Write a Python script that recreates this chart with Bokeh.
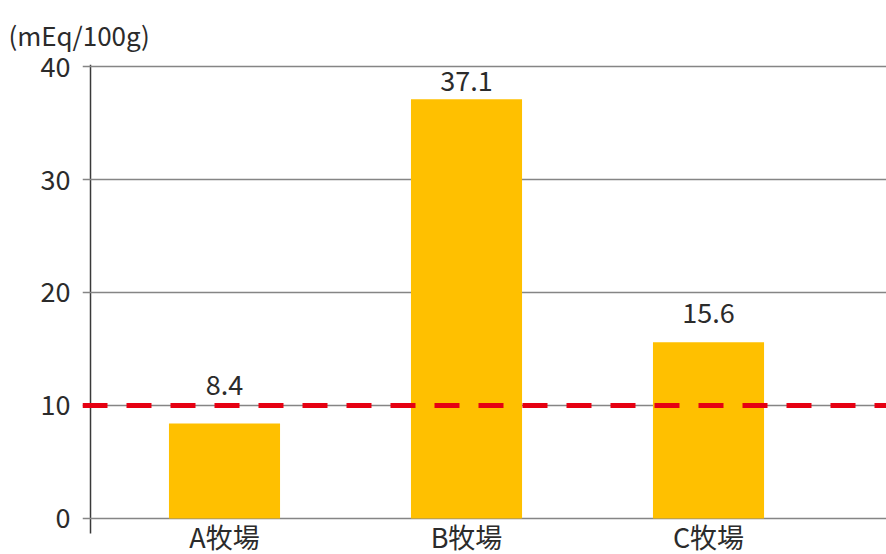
from bokeh.plotting import figure
from bokeh.models import Span, ColumnDataSource, FixedTicker, Range1d
from bokeh.core.properties import value
from bokeh.embed import file_html
from bokeh.resources import INLINE

# ---- data ----
categories = ["A牧場", "B牧場", "C牧場"]
values = [8.4, 37.1, 15.6]
y_ticks = [0, 10, 20, 30, 40]
reference_value = 10
unit_label = "(mEq/100g)"

# ---- styling ----
FONT = "Noto Sans CJK JP"
BAR_COLOR = "#FFC000"
REF_COLOR = "#E60012"
GRID_COLOR = "#858585"
TEXT_COLOR = "#2b2b2b"
label_offsets = [-39, -18, -29]  # px shift of value labels from bar top

Y_START, Y_END = -3.19, 40.18      # view window (frame runs to canvas bottom)
AXIS_LINE_BOTTOM = -1.33           # vertical axis line stops a little under zero
AXIS_X = -0.5537                   # x position of the vertical axis line

xs = list(range(len(categories)))
value_labels = [f"{v:.1f}" for v in values]

src = ColumnDataSource(dict(x=xs, top=values, label=value_labels, off=label_offsets))

p = figure(width=886, height=554, output_backend="svg", toolbar_location=None,
           x_range=Range1d(-0.5868, 2.7355), y_range=Range1d(Y_START, Y_END),
           min_border_left=82, min_border_right=0, min_border_top=64,
           min_border_bottom=0)
p.outline_line_color = None
p.background_fill_color = "white"
p.border_fill_color = "white"

# bars
p.vbar(x="x", top="top", width=0.459, source=src,
       fill_color=BAR_COLOR, line_color=None)

# value labels
p.text(x="x", y="top", text="label", y_offset="off", source=src,
       text_align="center", text_baseline="alphabetic",
       text_font=value(FONT), text_font_size="27px", text_color=TEXT_COLOR)

# reference line
p.add_layout(Span(location=reference_value, dimension="width",
                  line_color=REF_COLOR, line_width=5, line_dash="25 19"))

# vertical axis line
p.segment(x0=[AXIS_X], y0=[AXIS_LINE_BOTTOM], x1=[AXIS_X], y1=[Y_END],
          line_color="#3a3a3a", line_width=1.5, level="underlay")

# grid
p.xgrid.visible = False
p.ygrid.ticker = FixedTicker(ticks=y_ticks)
p.ygrid.grid_line_color = GRID_COLOR
p.ygrid.grid_line_width = 1.5

# y axis
p.yaxis.ticker = FixedTicker(ticks=y_ticks)
p.yaxis.axis_line_color = None
p.yaxis.major_tick_line_color = None
p.yaxis.minor_tick_line_color = None
p.yaxis.major_label_standoff = 6
p.yaxis.major_label_text_font = FONT
p.yaxis.major_label_text_font_size = "27px"
p.yaxis.major_label_text_color = TEXT_COLOR

# x axis (pinned to the zero line so the labels sit just under it)
p.xaxis.ticker = FixedTicker(ticks=xs)
p.xaxis.major_label_overrides = {i: c for i, c in enumerate(categories)}
p.xaxis.axis_line_color = None
p.xaxis.major_tick_line_color = None
p.xaxis.minor_tick_line_color = None
p.xaxis.fixed_location = 0
p.xaxis.major_label_standoff = -7
p.xaxis.major_label_text_font = FONT
p.xaxis.major_label_text_font_size = "27px"
p.xaxis.major_label_text_color = TEXT_COLOR

# unit title
p.title.text = unit_label
p.title.align = "left"
p.title.offset = -74
p.title.standoff = 24
p.title.text_font = FONT
p.title.text_font_size = "26px"
p.title.text_font_style = "normal"
p.title.text_color = TEXT_COLOR

open("out.html", "w").write(file_html(p, INLINE))
